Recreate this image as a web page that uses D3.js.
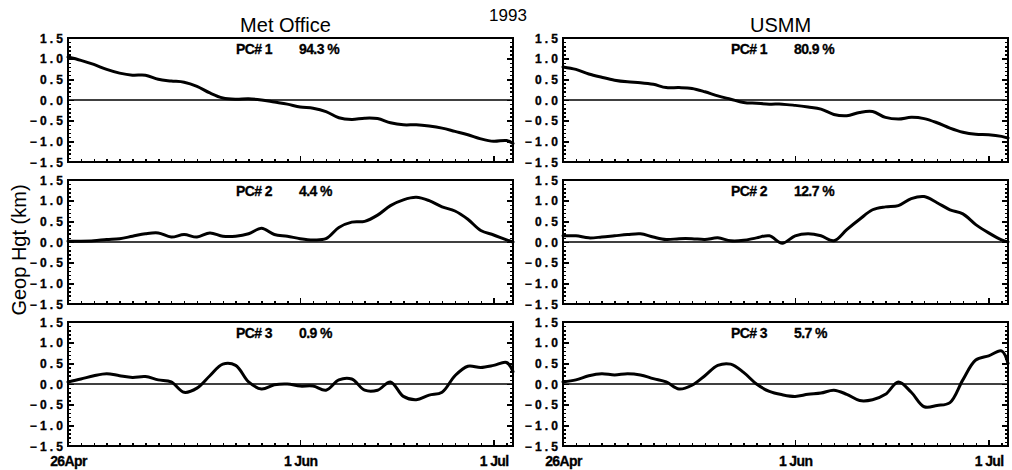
<!DOCTYPE html>
<html><head><meta charset="utf-8">
<script src="https://cdn.jsdelivr.net/npm/d3@7"></script>
<style>
body{margin:0;background:#fff}
svg{display:block}
text{font-family:"Liberation Sans",Arial,Helvetica,sans-serif;fill:#000}
</style></head><body>
<svg id="chart" width="1012" height="470"></svg>
<script>
// Days since 26 April 1993
const days = [0,2,4,6,8,10,12,14,16,18,20,22,24,26,28,30,32,34,36,38,40,42,44,46,48,50,52,54,56,58,60,62,64,66,68,69];

// Met Office principal components (km)
const metPC1 = [1.04,0.96,0.86,0.74,0.65,0.60,0.60,0.50,0.46,0.43,0.33,0.17,0.05,0.02,0.03,0.00,-0.05,-0.10,-0.17,-0.20,-0.28,-0.43,-0.47,-0.44,-0.45,-0.55,-0.60,-0.60,-0.63,-0.68,-0.76,-0.84,-0.94,-1.00,-0.98,-1.05];
const metPC2 = [0.02,0.02,0.03,0.06,0.08,0.14,0.20,0.22,0.12,0.18,0.12,0.22,0.14,0.14,0.20,0.33,0.18,0.14,0.08,0.05,0.08,0.35,0.48,0.50,0.65,0.88,1.02,1.08,1.00,0.85,0.75,0.55,0.28,0.17,0.05,0.00];
const metPC3 = [0.05,0.12,0.20,0.25,0.20,0.16,0.18,0.10,0.05,-0.20,-0.10,0.20,0.48,0.45,0.05,-0.12,-0.02,0.00,-0.05,-0.05,-0.15,0.10,0.12,-0.15,-0.15,0.05,-0.30,-0.38,-0.27,-0.20,0.20,0.43,0.40,0.45,0.52,0.30];

// USMM principal components (km)
const usmmPC1 = [0.80,0.74,0.63,0.55,0.48,0.44,0.42,0.38,0.30,0.30,0.28,0.20,0.10,0.02,-0.06,-0.08,-0.10,-0.10,-0.13,-0.17,-0.22,-0.35,-0.38,-0.30,-0.28,-0.42,-0.46,-0.42,-0.45,-0.55,-0.68,-0.78,-0.83,-0.84,-0.88,-0.92];
const usmmPC2 = [0.15,0.15,0.10,0.12,0.15,0.18,0.20,0.12,0.06,0.08,0.08,0.06,0.10,0.03,0.04,0.10,0.15,-0.03,0.15,0.20,0.15,0.03,0.30,0.55,0.78,0.85,0.88,1.05,1.10,0.95,0.78,0.68,0.42,0.22,0.05,0.00];
const usmmPC3 = [0.05,0.10,0.20,0.25,0.22,0.25,0.22,0.13,0.05,-0.12,-0.03,0.20,0.45,0.48,0.28,0.00,-0.18,-0.26,-0.30,-0.25,-0.22,-0.15,-0.25,-0.40,-0.38,-0.25,0.05,-0.20,-0.55,-0.52,-0.45,0.10,0.58,0.68,0.80,0.50];

const modelNames = ["Met Office", "USMM"];
const pcNames = ["PC# 1", "PC# 2", "PC# 3"];
const metVariance = ["94.3 %", "4.4 %", "0.9 %"];
const usmmVariance = ["80.9 %", "12.7 %", "5.7 %"];

const yTickValues = [-1.5, -1.0, -0.5, 0.0, 0.5, 1.0, 1.5];
const yMinorValues = d3.range(-15, 16).map(v => v / 10);
const xLabelDays = [0, 36, 66];
const xLabels = ["26Apr", "1 Jun", "1 Jul"];
const xMinorDays = d3.range(2, 69, 2);

const svg = d3.select("#chart");
const W = 445, H = 124;
const colLeft = [68, 563];
const rowTop = [38, 180, 322];

const columns = [
  {name: modelNames[0], series: [metPC1, metPC2, metPC3], variance: metVariance},
  {name: modelNames[1], series: [usmmPC1, usmmPC2, usmmPC3], variance: usmmVariance}
];

const x = d3.scaleLinear().domain([0, 69]).range([0, W]);
const y = d3.scaleLinear().domain([-1.5, 1.5]).range([H, 0]);

const line = d3.line()
  .x((d, i) => x(days[i]))
  .y(d => y(d))
  .curve(d3.curveCatmullRom.alpha(0.5));

const LS = 3.2; // letter spacing of y tick labels

columns.forEach((col, ci) => {
  col.series.forEach((vals, ri) => {
    const g = svg.append("g").attr("transform", `translate(${colLeft[ci]},${rowTop[ri]})`);

    // minor y ticks on both sides
    g.append("g").call(d3.axisLeft(y).tickValues(yMinorValues).tickSize(-3).tickFormat(""));
    g.append("g").attr("transform", `translate(${W},0)`)
      .call(d3.axisRight(y).tickValues(yMinorValues).tickSize(-3).tickFormat(""));
    // major y ticks with labels
    const yMajL = g.append("g").call(d3.axisLeft(y).tickValues(yTickValues).tickSize(-6).tickPadding(5)
      .tickFormat(d3.format(".1f")));
    g.append("g").attr("transform", `translate(${W},0)`)
      .call(d3.axisRight(y).tickValues(yTickValues).tickSize(-6).tickFormat(""));
    yMajL.selectAll("text")
      .attr("dx", LS)
      .style("font-size", "12px").style("font-weight", "900").style("letter-spacing", LS + "px")
      .style("stroke", "#000").style("stroke-width", "0.35px")
      .attr("dy", "0.36em");

    // x ticks along the bottom edge
    g.append("g").attr("transform", `translate(0,${H})`)
      .call(d3.axisBottom(x).tickValues(xMinorDays).tickSize(-3).tickFormat(""));
    const xMaj = g.append("g").attr("transform", `translate(0,${H})`)
      .call(d3.axisBottom(x).tickValues(xLabelDays).tickSize(-6).tickPadding(10)
        .tickFormat((d, i) => xLabels[i]));
    xMaj.selectAll("text")
      .style("font-size", "14px").style("font-weight", "bold").style("letter-spacing", "-0.6px")
      .style("stroke", "#000").style("stroke-width", "0.3px")
      .style("display", ri === 2 ? null : "none");

    g.selectAll(".domain").remove();
    g.selectAll(".tick line").attr("stroke", "#000").attr("stroke-width", 1.5)
      .attr("shape-rendering", "crispEdges");

    // zero reference line
    g.append("line").attr("x1", 0).attr("x2", W).attr("y1", y(0)).attr("y2", y(0))
      .attr("stroke", "#000").attr("stroke-width", 1.6);

    // component curve
    g.append("path").datum(vals).attr("d", line)
      .attr("fill", "none").attr("stroke", "#000").attr("stroke-width", 3)
      .attr("stroke-linejoin", "round").attr("stroke-linecap", "round");

    // frame
    g.append("rect").attr("x", 0).attr("y", 0).attr("width", W).attr("height", H)
      .attr("fill", "none").attr("stroke", "#000").attr("stroke-width", 2);

    // component label and explained variance
    g.append("text").attr("x", 168).attr("y", 16)
      .style("font-size", "14px").style("font-weight", "bold").style("letter-spacing", "-0.6px")
      .style("stroke", "#000").style("stroke-width", "0.3px")
      .text(pcNames[ri]);
    g.append("text").attr("x", 231).attr("y", 16)
      .style("font-size", "14px").style("font-weight", "bold").style("letter-spacing", "-0.6px")
      .style("stroke", "#000").style("stroke-width", "0.3px")
      .text(col.variance[ri]);
  });

  // column title
  svg.append("text").attr("x", colLeft[ci] + W / 2 - 5).attr("y", 32)
    .attr("text-anchor", "middle").style("font-size", "20px")
    .text(col.name);
});

// year heading
svg.append("text").attr("x", 508).attr("y", 21).attr("text-anchor", "middle")
  .style("font-size", "17px").text("1993");

// y axis title
svg.append("text").attr("transform", "translate(26,250) rotate(-90)")
  .attr("text-anchor", "middle").style("font-size", "20px")
  .text("Geop Hgt (km)");
</script></body></html>
